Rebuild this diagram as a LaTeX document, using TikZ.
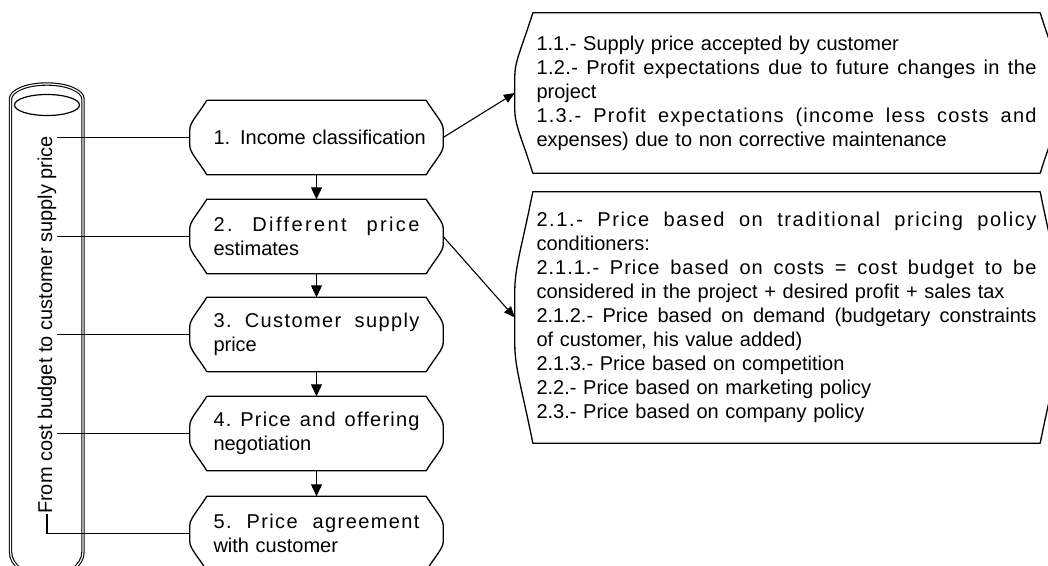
\documentclass[tikz,border=0pt]{standalone}
\usepackage{fontspec}
\setmainfont{Liberation Sans}
\usetikzlibrary{arrows.meta,calc}
\makeatletter
\def\jsplit#1 #2\jstop{#1\if\relax\detokenize{#2}\relax\else\hfill\jsplit#2\jstop\fi}
\makeatother
\newcommand{\lj}[2][0]{\leavevmode\hbox to 206pt{\addfontfeature{LetterSpace=#1}\jsplit#2 \jstop}}
\newcommand{\rj}[2][0]{\leavevmode\hbox to 500pt{\addfontfeature{LetterSpace=#1}\jsplit#2 \jstop}}
\newcommand{\bracketoutline}[2]{%
  \draw[outl] let \p1=(#1.north west), \p2=(#1.south east), \n1={\y2-\y1} in
  ({\x1+#2},\y1) -- ({\x2-#2},\y1)
  .. controls ({\x2-0.45*#2},{\y1+0.2*\n1}) and (\x2,{\y1+0.3*\n1}) .. (\x2,{\y1+0.39*\n1})
  -- (\x2,{\y2-0.39*\n1})
  .. controls (\x2,{\y2-0.3*\n1}) and ({\x2-0.45*#2},{\y2-0.2*\n1}) .. ({\x2-#2},\y2)
  -- ({\x1+#2},\y2)
  .. controls ({\x1+0.45*#2},{\y2-0.2*\n1}) and (\x1,{\y2-0.3*\n1}) .. (\x1,{\y2-0.39*\n1})
  -- (\x1,{\y1+0.39*\n1})
  .. controls (\x1,{\y1+0.3*\n1}) and ({\x1+0.45*#2},{\y1+0.2*\n1}) .. ({\x1+#2},\y1) -- cycle;}
\tikzset{
  outl/.style={line width=1.3pt, line join=round},
  procbox/.style={minimum width=253pt, minimum height=74pt, text width=206pt,
    inner xsep=23.5pt, inner ysep=0pt, align=left, font=\fontsize{20}{24}\selectfont},
  infobox/.style={text width=500pt, inner xsep=21.5pt, inner ysep=0pt, align=left,
    font=\fontsize{20}{24}\selectfont},
  conn/.style={line width=1.1pt},
  flowarr/.style={line width=1.1pt, -{Triangle[length=12pt,width=11pt]}},
  diagarr/.style={line width=1.1pt, -{Triangle[length=11pt,width=9pt]}},
  cyl/.style={double, line width=1.1pt, double distance=1.2pt}
}
\begin{document}
\begin{tikzpicture}[x=1pt,y=1pt]
\useasboundingbox (0,0) rectangle (1048,-565);
\fill[white] (0,0) rectangle (1048,-565);
\clip (0,0) rectangle (1048,-565);
% cylinder
\draw[cyl] (10.5,-552) -- (10.5,-99) arc[start angle=180,end angle=0,x radius=36.25,y radius=15]
  -- (83,-552) arc[start angle=0,end angle=-180,x radius=36.25,y radius=25] -- cycle;
\draw[line width=1.2pt] (47,-105) ellipse [x radius=32.5, y radius=10.5];
\node[rotate=90, inner sep=0pt, font=\fontsize{20}{24}\selectfont] (lbl) at (47,-325) {From cost budget to customer supply price};
% process boxes
\node[procbox] (b1) at (316.5,-137.5) {\mbox{1. Income classification}};
\node[procbox] (b2) at (316.5,-236.5) {\lj[12]{2. Different price}\\estimates};
\node[procbox] (b3) at (316.5,-334.5) {\lj[7]{3. Customer supply}\\price};
\node[procbox] (b4) at (316.5,-433.5) {\lj[6]{4. Price and offering}\\negotiation};
\node[procbox] (b5) at (316.5,-533.5) {\lj[7]{5. Price agreement}\\with customer};
\foreach \bx in {b1,b2,b3,b4,b5}{\bracketoutline{\bx}{17}}
% info boxes
\node[infobox, minimum height=160pt] (r1) at (786.5,-93) {1.1.- Supply price accepted by customer\\
\rj[2]{1.2.- Profit expectations due to future changes in the}\\
project\\
\rj[6]{1.3.- Profit expectations (income less costs and}\\
expenses) due to non corrective maintenance};
\node[infobox, minimum height=251pt] (r2) at (786.5,-317.5) {\rj[8]{2.1.- Price based on traditional pricing policy}\\
conditioners:\\
\rj[5]{2.1.1.- Price based on costs = cost budget to be}\\
considered in the project + desired profit + sales tax\\
\rj{2.1.2.- Price based on demand (budgetary constraints}\\
of customer, his value added)\\
2.1.3.- Price based on competition\\
2.2.- Price based on marketing policy\\
2.3.- Price based on company policy};
\bracketoutline{r1}{18}
\bracketoutline{r2}{18}
% connectors
\foreach \bx in {b1,b2,b3,b4}{\draw[conn] (lbl.south |- \bx.west) -- (\bx.west);}
\draw[conn] (lbl.west) |- (b5.west);
\draw[flowarr] (b1.south) -- (b2.north);
\draw[flowarr] (b2.south) -- (b3.north);
\draw[flowarr] (b3.south) -- (b4.north);
\draw[flowarr] (b4.south) -- (b5.north);
\draw[diagarr] (b1.east) -- (r1.west);
\draw[diagarr] (b2.east) -- (r2.west);
\end{tikzpicture}
\end{document}
